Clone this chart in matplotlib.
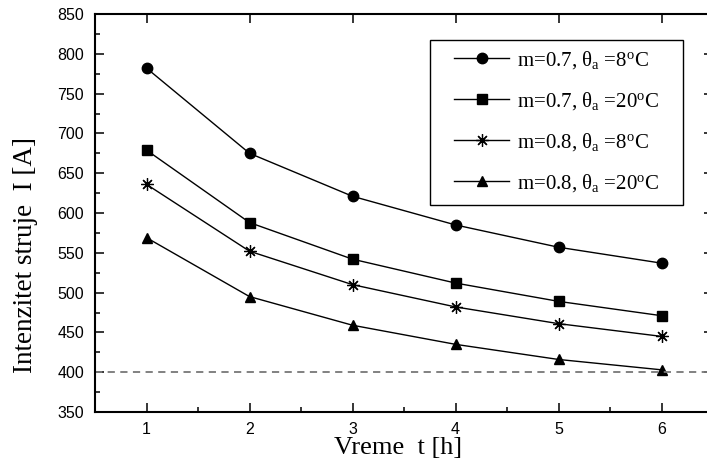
import matplotlib
matplotlib.use("Agg")
import matplotlib.pyplot as plt
from matplotlib.patches import Rectangle
from matplotlib.ticker import MultipleLocator

plt.rcParams['font.family'] = ['Liberation Serif', 'DejaVu Serif']
plt.rcParams['mathtext.fontset'] = 'custom'
plt.rcParams['mathtext.rm'] = 'Liberation Serif'
plt.rcParams['mathtext.it'] = 'Liberation Serif:italic'

t = [1, 2, 3, 4, 5, 6]
s_07_8 = [782, 675, 621, 585, 557, 537]
s_07_20 = [679, 588, 542, 512, 489, 471]
s_08_8 = [636, 552, 510, 482, 461, 445]
s_08_20 = [569, 495, 459, 435, 416, 403]
labels = ['m=0.7, θ$_{\\rm a}$ =8$^{\\rm o}$C',
          'm=0.7, θ$_{\\rm a}$ =20$^{\\rm o}$C',
          'm=0.8, θ$_{\\rm a}$ =8$^{\\rm o}$C',
          'm=0.8, θ$_{\\rm a}$ =20$^{\\rm o}$C']
limit = 400

fig = plt.figure(figsize=(7.07, 4.70), dpi=100)
ax = fig.add_axes([95/707, 58/470, 618/707, 398/470])

ax.plot(t, s_07_8, 'k-', marker='o', ms=7.5, lw=1, label=labels[0])
ax.plot(t, s_07_20, 'k-', marker='s', ms=6.5, lw=1, label=labels[1])
ax.plot(t, s_08_8, 'k-', marker=(8, 2, 0), ms=9, mew=0.9, lw=1, label=labels[2])
ax.plot(t, s_08_20, 'k-', marker='^', ms=7.5, lw=1, label=labels[3])
ax.axhline(limit, color='#777777', lw=1.3, ls=(0, (4, 3)))

ax.set_xlim(0.5, 6.5)
ax.set_ylim(350, 850)
ax.xaxis.set_major_locator(MultipleLocator(1))
ax.xaxis.set_minor_locator(MultipleLocator(0.5))
ax.yaxis.set_major_locator(MultipleLocator(50))
ax.yaxis.set_minor_locator(MultipleLocator(25))
ax.tick_params(which='both', direction='in', top=True, right=True,
               width=1.1, labelsize=11.5)
ax.tick_params(which='major', length=6.5, pad=7)
ax.tick_params(which='minor', length=3.6, top=False, right=False)
ax.tick_params(axis='y', which='major', pad=8)
for lab in ax.get_xticklabels() + ax.get_yticklabels():
    lab.set_family('Liberation Sans')
for sp in ax.spines.values():
    sp.set_linewidth(1.5)

ax.set_xlabel('Vreme  t [h]', fontsize=19)
ax.set_ylabel('Intenzitet struje  I [A]', fontsize=19.5)
ax.xaxis.set_label_coords(0.49, -0.063)
ax.yaxis.set_label_coords(-0.092, 0.394)

# legend box drawn separately, entries placed inside it
fig.patches.append(Rectangle((430/707, 265/470), 253/707, 165/470,
                             transform=fig.transFigure, fill=False,
                             ec='black', lw=1))
leg = ax.legend(loc='upper right', bbox_to_anchor=(659/707, 421/470),
                bbox_transform=fig.transFigure, borderaxespad=0, borderpad=0,
                fontsize=15, frameon=False,
                handlelength=2.65, handletextpad=0.35, labelspacing=0.92)

fig.savefig('out.png', dpi=100)
